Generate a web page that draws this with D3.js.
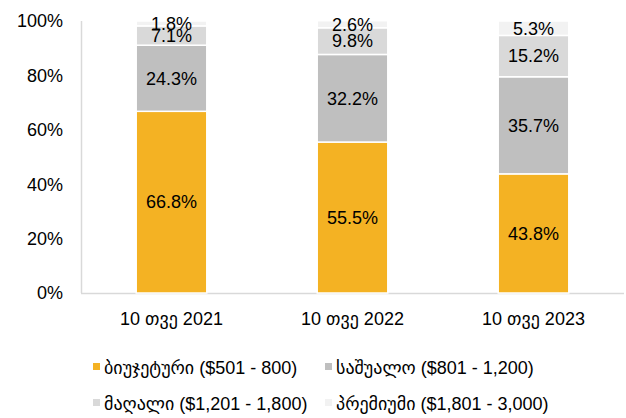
<!DOCTYPE html>
<html>
<head>
<meta charset="utf-8">
<script src="https://cdn.jsdelivr.net/npm/d3@7"></script>
<style>
  body { margin: 0; background: #fff; }
  svg text { font-family: "Liberation Sans", Arial, "DejaVu Sans", sans-serif; fill: #000; }
</style>
</head>
<body>
<div id="chart"></div>
<script>
var categories = ['10 თვე 2021', '10 თვე 2022', '10 თვე 2023'];
var seriesNames = ['ბიუჯეტური ($501 - 800)', 'საშუალო ($801 - 1,200)', 'მაღალი ($1,201 - 1,800)', 'პრემიუმი ($1,801 - 3,000)'];
var budget = [66.8, 55.5, 43.8];
var middle = [24.3, 32.2, 35.7];
var high = [7.1, 9.8, 15.2];
var premium = [1.8, 2.6, 5.3];
var yTicks = [0, 20, 40, 60, 80, 100];

var colors = ['#F4B223', '#BFBFBF', '#D9D9D9', '#F2F2F2'];
var allSeries = [budget, middle, high, premium];

var width = 626, height = 418;
var margin = { top: 21, right: 2, bottom: 125, left: 81 };
var w = width - margin.left - margin.right,
  h = height - margin.top - margin.bottom;

var svg = d3.select('#chart').append('svg')
  .attr('width', width)
  .attr('height', height);

var g = svg.append('g')
  .attr('transform', 'translate(' + margin.left + ',' + margin.top + ')');

var x = d3.scaleBand()
  .domain(categories)
  .range([0, w])
  .paddingInner(0.61)
  .paddingOuter(0.305);

var y = d3.scaleLinear()
  .domain([0, 100])
  .range([h, 0]);

// build rows for d3.stack
var rows = categories.map(function (c, i) {
  var r = { cat: c };
  seriesNames.forEach(function (s, j) { r[s] = allSeries[j][i]; });
  return r;
});
var stacked = d3.stack().keys(seriesNames)(rows);

// axis lines
g.append('line')
  .attr('x1', 0.5).attr('x2', 0.5)
  .attr('y1', 0).attr('y2', h)
  .attr('stroke', '#D9D9D9').attr('stroke-width', 1.5);
g.append('line')
  .attr('x1', 0).attr('x2', w)
  .attr('y1', h + 0.5).attr('y2', h + 0.5)
  .attr('stroke', '#D9D9D9').attr('stroke-width', 1.5);

// y tick labels
g.selectAll('.ytick')
  .data(yTicks)
  .enter().append('text')
  .attr('class', 'ytick')
  .attr('x', -18)
  .attr('y', function (d) { return y(d); })
  .attr('dy', '0.35em')
  .attr('text-anchor', 'end')
  .style('font-size', '18px')
  .text(function (d) { return d + '%'; });

// bars
var layer = g.selectAll('.layer')
  .data(stacked)
  .enter().append('g')
  .attr('class', 'layer')
  .attr('fill', function (d, i) { return colors[i]; });

layer.selectAll('rect')
  .data(function (d) { return d; })
  .enter().append('rect')
  .attr('x', function (d) { return x(d.data.cat); })
  .attr('width', x.bandwidth())
  .attr('y', function (d) { return y(d[1]); })
  .attr('height', function (d) { return y(d[0]) - y(d[1]); })
  .attr('stroke', '#fff')
  .attr('stroke-width', 1.5);

// value labels
layer.selectAll('text')
  .data(function (d) { return d.map(function (p) { return { p: p, key: d.key }; }); })
  .enter().append('text')
  .attr('x', function (d) { return x(d.p.data.cat) + x.bandwidth() / 2; })
  .attr('y', function (d) { return y((d.p[0] + d.p[1]) / 2); })
  .attr('dy', '0.35em')
  .attr('text-anchor', 'middle')
  .style('font-size', '18px')
  .text(function (d) { return d.p.data[d.key].toFixed(1) + '%'; });

// x labels
g.selectAll('.xlabel')
  .data(categories)
  .enter().append('text')
  .attr('class', 'xlabel')
  .attr('x', function (d) { return x(d) + x.bandwidth() / 2; })
  .attr('y', h + 26)
  .attr('dy', '0.35em')
  .attr('text-anchor', 'middle')
  .style('font-size', '18px')
  .text(function (d) { return d; });

// legend
var legendPos = [[93, 368], [325, 368], [93, 404], [325, 404]];
var legend = svg.selectAll('.legend')
  .data(seriesNames)
  .enter().append('g')
  .attr('class', 'legend')
  .attr('transform', function (d, i) { return 'translate(' + legendPos[i][0] + ',' + legendPos[i][1] + ')'; });

legend.append('rect')
  .attr('x', 0).attr('y', -5)
  .attr('width', 7).attr('height', 7)
  .attr('fill', function (d, i) { return colors[i]; });

legend.append('text')
  .attr('x', 11)
  .attr('y', 0)
  .attr('dy', '0.35em')
  .style('font-size', '18px')
  .text(function (d) { return d; });
</script>
</body>
</html>
